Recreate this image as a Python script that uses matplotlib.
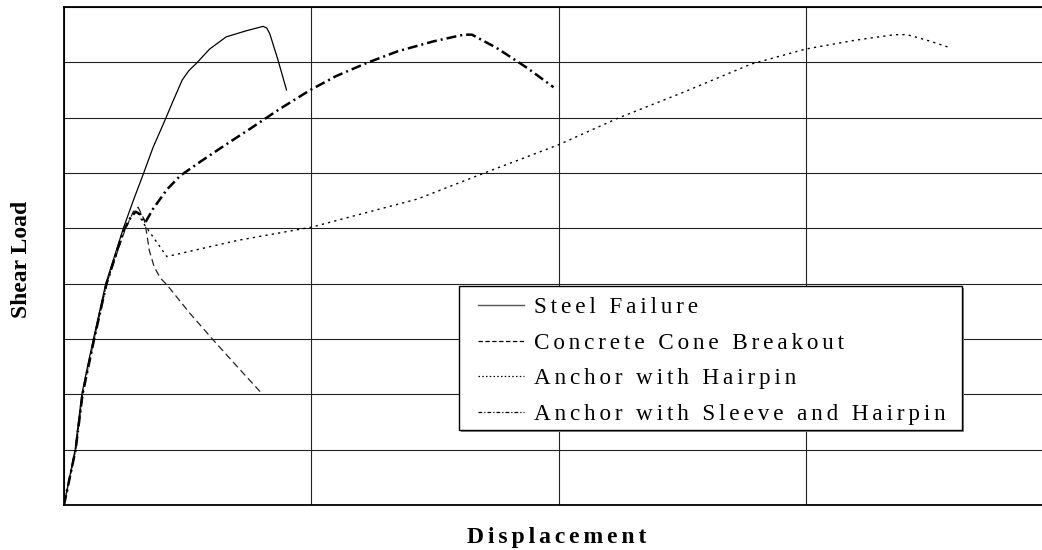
import matplotlib
matplotlib.use("Agg")
import matplotlib.pyplot as plt
from matplotlib.lines import Line2D
from matplotlib.patches import Rectangle

# curves (x: displacement, y: shear load, grid units)
steel_x = [0, 0.045, 0.072, 0.095, 0.119, 0.169, 0.24, 0.28, 0.319, 0.36, 0.407,
           0.44, 0.478, 0.505, 0.535, 0.589, 0.656, 0.737, 0.805, 0.82, 0.832, 0.865, 0.90]
steel_y = [0, 1.0, 2.0, 2.5, 3.0, 4.0, 5.0, 5.5, 5.96, 6.46, 6.94,
           7.29, 7.68, 7.85, 7.98, 8.24, 8.46, 8.57, 8.65, 8.62, 8.52, 8.05, 7.5]

cone_x = [0, 0.047, 0.075, 0.122, 0.172, 0.245, 0.28, 0.30, 0.325, 0.335, 0.345,
          0.365, 0.39, 0.416, 0.51, 0.604, 0.713, 0.793]
cone_y = [0, 1.0, 2.0, 3.0, 4.0, 4.95, 5.3, 5.38, 5.15, 4.9, 4.6,
          4.3, 4.1, 3.98, 3.46, 2.98, 2.44, 2.05]

hairpin_x = [0, 0.047, 0.075, 0.122, 0.172, 0.24, 0.275, 0.296, 0.32, 0.416, 0.7,
             1.0, 1.43, 1.70, 2.0, 2.24, 2.5, 2.78, 3.0, 3.2, 3.36, 3.41, 3.49, 3.58]
hairpin_y = [0, 1.0, 2.0, 3.0, 4.0, 4.95, 5.25, 5.3, 5.1, 4.49, 4.78,
             5.02, 5.53, 6.0, 6.51, 6.99, 7.45, 7.97, 8.24, 8.4, 8.5, 8.5, 8.4, 8.27]

sleeve_x = [0, 0.047, 0.075, 0.122, 0.172, 0.24, 0.27, 0.29, 0.31, 0.328, 0.36,
            0.416, 0.47, 0.55, 0.65, 0.753, 0.87, 0.996, 1.1, 1.225, 1.35,
            1.495, 1.617, 1.65, 1.75, 1.873, 1.98]
sleeve_y = [0, 1.0, 2.0, 3.0, 4.0, 4.95, 5.2, 5.3, 5.25, 5.1, 5.35,
            5.7, 5.95, 6.2, 6.5, 6.8, 7.15, 7.5, 7.75, 7.99, 8.2,
            8.38, 8.5, 8.5, 8.26, 7.9, 7.55]

labels = ["Steel Failure", "Concrete Cone Breakout",
          "Anchor with Hairpin", "Anchor with Sleeve and Hairpin"]

FONT = ["Liberation Serif", "DejaVu Sans"]
plt.rcParams["font.family"] = FONT


def spaced(s):
    # fake the wide letter tracking of the original (six-per-em space)
    return "\u2006".join(s)


W, H = 1042, 550
fig = plt.figure(figsize=(W / 100, H / 100), dpi=100)
# plot frame runs past the right edge of the picture, as in the original
ax = fig.add_axes([64 / W, 45 / H, 989 / W, 498 / H])

ax.set_xlim(0, 4)
ax.set_ylim(0, 9)
ax.set_xticks(range(0, 5))
ax.set_yticks(range(0, 10))
ax.tick_params(length=0, labelbottom=False, labelleft=False)
ax.grid(True, color="#222222", linewidth=0.8)
ax.set_axisbelow(True)
for sp in ax.spines.values():
    sp.set_linewidth(1.3)
    sp.set_color("black")

ax.plot(steel_x, steel_y, color="black", linewidth=0.9, linestyle="-")
ax.plot(cone_x, cone_y, color="#222222", linewidth=0.9, linestyle=(0, (5.6, 3.2)))
ax.plot(hairpin_x, hairpin_y, color="black", linewidth=1.0, linestyle=(0, (1.6, 3.0)))
ax.plot(sleeve_x, sleeve_y, color="black", linewidth=1.8, linestyle=(0, (4, 1.6, 0.8, 1.6)))


# legend box drawn by hand so it matches the original size
def px_to_axes(px, py):
    return (px - 64) / 989, (505 - py) / 498


x0, y1 = px_to_axes(459, 286)
x1, y0 = px_to_axes(962, 430)
sx, sy = 2 / 989, 2 / 498
ax.add_patch(Rectangle((x0 + sx, y0 - sy), x1 - x0, y1 - y0, transform=ax.transAxes,
                       facecolor="#888888", edgecolor="none", zorder=4))
ax.add_patch(Rectangle((x0, y0), x1 - x0, y1 - y0, transform=ax.transAxes,
                       facecolor="white", edgecolor="black", linewidth=1.0, zorder=5))

handles = [
    Line2D([], [], color="#555555", linewidth=1.0, linestyle="-"),
    Line2D([], [], color="black", linewidth=0.9, linestyle=(0, (3.5, 2.0))),
    Line2D([], [], color="black", linewidth=0.9, linestyle=(0, (1.2, 1.8))),
    Line2D([], [], color="black", linewidth=0.9, linestyle=(0, (3.0, 1.6, 1.0, 1.6))),
]
hx, hy = px_to_axes(478, 361)
leg = ax.legend(handles, [spaced(l) for l in labels], loc="center left",
                bbox_to_anchor=(hx, hy),
                frameon=False, prop={"family": FONT, "size": 16.7},
                handlelength=2.0, handletextpad=0.4, labelspacing=0.62,
                borderpad=0.0, borderaxespad=0.0)
leg.set_zorder(6)

fig.text(22 / W, 1 - 259 / H, "Shear Load", rotation=90, ha="center", va="center",
         fontsize=17, fontweight="bold", family=FONT)
fig.text(557 / W, 1 - 538 / H, spaced("Displacement"), ha="center", va="center",
         fontsize=17, fontweight="bold", family=FONT)

fig.savefig("out.png", dpi=100)
